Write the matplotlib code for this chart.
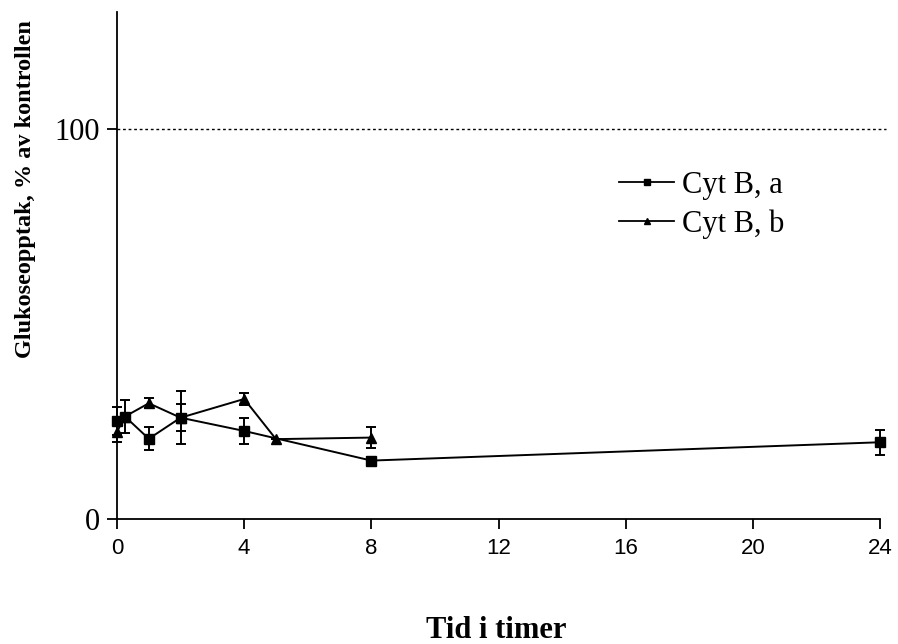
import matplotlib.pyplot as plt
from matplotlib.lines import Line2D

# data
tid_a = [0, 0.25, 1, 2, 4, 8, 24]
cyt_a = [25.2, 26.3, 20.6, 26.0, 22.6, 15.0, 19.7]
err_a = [3.6, 4.2, 3.0, 6.8, 3.3, 1.0, 3.2]

tid_b = [0, 0.25, 1, 2, 4, 5, 8]
cyt_b = [22.4, 26.3, 29.7, 26.0, 30.8, 20.5, 20.9]
err_b = [2.6, 0.0, 1.3, 3.5, 1.6, 0.0, 2.6]

x_ticks = [0, 4, 8, 12, 16, 20, 24]
y_ticks = [0, 100]
kontroll = 100

serif = ['Liberation Serif', 'DejaVu Serif']
sans = ['Liberation Sans', 'DejaVu Sans']

fig = plt.figure(figsize=(8.98, 6.44), dpi=100)
ax = fig.add_axes([0.1303, 0.194, 0.8497, 0.787])

# kontrollnivå
ax.plot([0, 24.2], [kontroll, kontroll], color='black', linestyle=(0, (2, 2)),
        linewidth=1.0, clip_on=False)

ax.errorbar(tid_a, cyt_a, yerr=err_a, color='black', marker='s', markersize=7,
            linewidth=1.4, elinewidth=1.4, capsize=3.5, capthick=1.4,
            clip_on=False, zorder=3)
ax.errorbar(tid_b, cyt_b, yerr=err_b, color='black', marker='^', markersize=7,
            linewidth=1.4, elinewidth=1.4, capsize=3.5, capthick=1.4,
            clip_on=False, zorder=3)

ax.set_xlim(0, 24)
ax.set_ylim(0, 130)
ax.set_xticks(x_ticks)
ax.set_yticks(y_ticks)
ax.set_xticklabels([str(t) for t in x_ticks], family=sans, fontsize=16)
ax.set_yticklabels([str(t) for t in y_ticks], family=serif, fontsize=22)

for side in ['top', 'right']:
    ax.spines[side].set_visible(False)
for side in ['left', 'bottom']:
    ax.spines[side].set_linewidth(1.3)
ax.tick_params(axis='both', direction='out', length=7.5, width=1.3)
ax.tick_params(axis='x', pad=6)
ax.tick_params(axis='y', pad=5)

# axeltitlar
fig.text(496 / 898, 1 - 630 / 644, 'Tid i timer', family=serif,
         fontweight='bold', fontsize=22, ha='center', va='center')
fig.text(26 / 898, 1 - 189 / 644, 'Glukoseopptak, % av kontrollen', family=serif,
         fontweight='bold', fontsize=17.5, rotation=90, ha='center', va='center')

# legend
handles = [Line2D([], [], color='black', marker='s', markersize=5, linewidth=1.3),
           Line2D([], [], color='black', marker='^', markersize=5, linewidth=1.3)]
ax.legend(handles, ['Cyt B, a', 'Cyt B, b'], loc='upper left',
          bbox_to_anchor=(0.6225, 0.741), frameon=False,
          prop={'family': serif, 'size': 22}, handlelength=1.77,
          handletextpad=0.26, labelspacing=0.3)

fig.savefig('out.png', dpi=100)
